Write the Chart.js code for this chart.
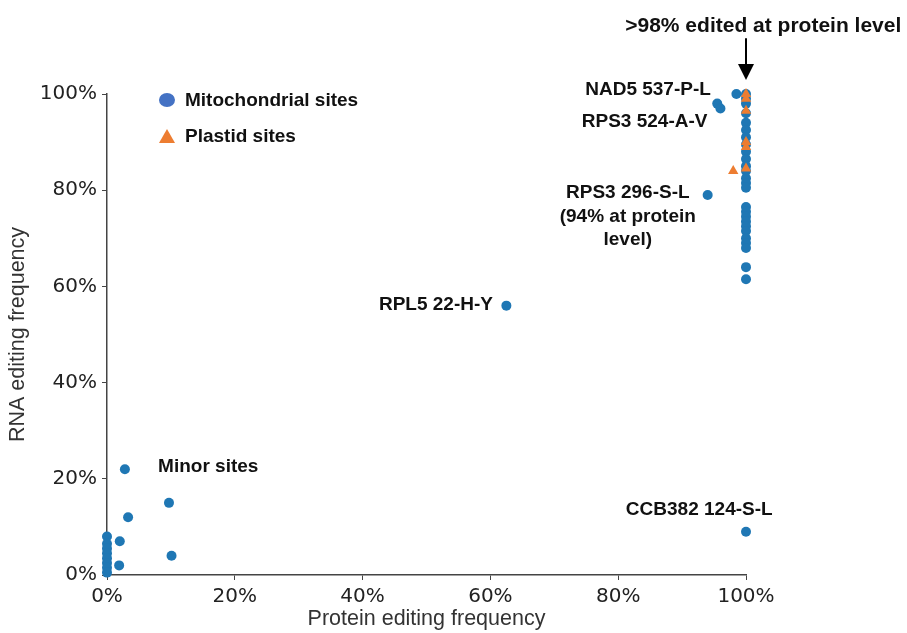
<!DOCTYPE html>
<html>
<head>
<meta charset="utf-8">
<script src="https://cdn.jsdelivr.net/npm/chart.js@4/dist/chart.umd.min.js"></script>
<style>
    html, body { margin: 0; padding: 0; background: #fff; }
    #wrap { width: 907px; height: 633px; position: relative; }
</style>
</head>
<body>
<div id="wrap"><canvas id="editing-chart"></canvas></div>
<script>
// protein vs RNA editing frequency (%), one entry per site
const mitoProtein = [0, 0, 0, 0, 0, 0, 0, 0,
    2.8, 9.7, 3.3, 2, 10.1, 1.9,
    62.5, 94, 95.5, 96, 98.5, 100,
    100, 100, 100, 100, 100, 100, 100, 100, 100, 100, 100, 100, 100,
    100, 100, 100, 100, 100, 100, 100, 100, 100, 100, 100, 100, 100];
const mitoRna = [8, 6.5, 5.5, 4.5, 3.5, 2.5, 1.5, 0.5,
    22, 15, 12, 7, 4, 2,
    56, 79, 98, 97, 100, 9,
    100, 99, 98, 96, 94, 92.5, 91, 89.5, 88, 86.5, 85, 84, 82.5,
    81.5, 80.5, 76.5, 75.5, 74.5, 73.5, 72.5, 71.5, 70, 69, 68, 64, 61.5];
const plastidProtein = [100, 100, 100, 100, 100, 100, 98];
const plastidRna = [100, 99, 96.5, 90, 89, 84.5, 84];

const tickValues = [0, 20, 40, 60, 80, 100];
const seriesNames = ['Mitochondrial sites', 'Plastid sites'];

// text labels: [text, x, y, align] in data units
const siteLabels = [
    ['NAD5 537-P-L', 94.5, 100.8, 'right'],
    ['RPS3 524-A-V', 74.3, 94.2, 'left'],
    ['RPS3 296-S-L', 81.5, 79.4, 'center'],
    ['(94% at protein', 81.5, 74.4, 'center'],
    ['level)', 81.5, 69.6, 'center'],
    ['RPL5 22-H-Y', 60.4, 56.1, 'right'],
    ['Minor sites', 8.0, 22.5, 'left'],
    ['CCB382 124-S-L', 81.2, 13.5, 'left']
];
const headerLabel = ['>98% edited at protein level', 102.7, 114.0];

const MITO_COLOR = '#1f77b4';
const PLASTID_COLOR = '#ed7d31';
const LABEL_FONT = 'bold 19px "Liberation Sans", Arial, sans-serif';
const HEADER_FONT = 'bold 21px "Liberation Sans", Arial, sans-serif';

const toPoints = function (xs, ys) {
    return xs.map((x, i) => ({ x: x, y: ys[i] }));
};

const annotationPlugin = {
    id: 'annotations',
    afterDatasetsDraw(chart) {
        const ctx = chart.ctx;
        const xs = chart.scales.x;
        const ys = chart.scales.y;
        ctx.save();
        ctx.fillStyle = '#111';
        ctx.font = LABEL_FONT;
        ctx.textBaseline = 'middle';
        siteLabels.forEach(([text, x, y, align]) => {
            ctx.textAlign = align;
            ctx.fillText(text, xs.getPixelForValue(x), ys.getPixelForValue(y));
        });
        ctx.font = HEADER_FONT;
        ctx.textAlign = 'center';
        ctx.fillText(headerLabel[0], xs.getPixelForValue(headerLabel[1]), ys.getPixelForValue(headerLabel[2]));

        // arrow down to the 100% column
        const ax = xs.getPixelForValue(100);
        const ay1 = ys.getPixelForValue(111.6);
        const ay2 = ys.getPixelForValue(102.9);
        ctx.strokeStyle = '#000';
        ctx.fillStyle = '#000';
        ctx.lineWidth = 2;
        ctx.beginPath();
        ctx.moveTo(ax, ay1);
        ctx.lineTo(ax, ay2 - 14);
        ctx.stroke();
        ctx.beginPath();
        ctx.moveTo(ax - 8, ay2 - 16);
        ctx.lineTo(ax + 8, ay2 - 16);
        ctx.lineTo(ax, ay2);
        ctx.closePath();
        ctx.fill();

        // legend
        const lx = chart.chartArea.left + 60;
        const ly = chart.chartArea.top + 6;
        ctx.font = LABEL_FONT;
        ctx.fillStyle = '#4472c4';
        ctx.beginPath();
        ctx.ellipse(lx, ly, 8, 7, 0, 0, Math.PI * 2);
        ctx.fill();
        ctx.fillStyle = PLASTID_COLOR;
        ctx.beginPath();
        ctx.moveTo(lx, ly + 29);
        ctx.lineTo(lx + 8, ly + 43);
        ctx.lineTo(lx - 8, ly + 43);
        ctx.closePath();
        ctx.fill();
        ctx.fillStyle = '#111';
        ctx.textAlign = 'left';
        ctx.fillText(seriesNames[0], lx + 18, ly + 1);
        ctx.fillText(seriesNames[1], lx + 18, ly + 37);
        ctx.restore();
    }
};

const tickFont = { family: '"DejaVu Sans", sans-serif', size: 20 };
const titleFont = { family: '"Liberation Sans", Arial, sans-serif', size: 21.5 };

new Chart('editing-chart', {
    type: 'scatter',
    data: {
        datasets: [{
            label: seriesNames[0],
            data: toPoints(mitoProtein, mitoRna),
            pointStyle: 'circle',
            pointRadius: 5,
            backgroundColor: MITO_COLOR,
            borderColor: MITO_COLOR,
            borderWidth: 0,
            clip: false,
            order: 2
        }, {
            label: seriesNames[1],
            data: toPoints(plastidProtein, plastidRna),
            pointStyle: 'triangle',
            pointRadius: 6,
            backgroundColor: PLASTID_COLOR,
            borderColor: PLASTID_COLOR,
            borderWidth: 0,
            clip: false,
            order: 1
        }]
    },
    options: {
        responsive: true,
        maintainAspectRatio: false,
        animation: false,
        layout: { padding: { top: 94, right: 161, left: 0, bottom: 0 } },
        plugins: {
            legend: { display: false },
            tooltip: { enabled: false }
        },
        scales: {
            x: {
                type: 'linear',
                min: 0,
                max: 100,
                afterFit: function (scale) { scale.height = 58; },
                afterBuildTicks: function (scale) { scale.ticks = tickValues.map(v => ({ value: v })); },
                ticks: { font: tickFont, color: '#222', padding: 5, callback: v => v + '%' },
                grid: { drawOnChartArea: false, drawTicks: true, tickLength: 5, color: '#444' },
                border: { display: true, color: '#444', width: 1.5 },
                title: { display: true, text: 'Protein editing frequency', font: titleFont, color: '#333', padding: 1 }
            },
            y: {
                type: 'linear',
                min: 0,
                max: 100,
                afterFit: function (scale) { scale.width = 107; },
                afterBuildTicks: function (scale) { scale.ticks = tickValues.map(v => ({ value: v })); },
                ticks: { font: tickFont, color: '#222', padding: 5, callback: v => v + '%' },
                grid: { drawOnChartArea: false, drawTicks: true, tickLength: 5, color: '#444' },
                border: { display: true, color: '#444', width: 1.5 },
                title: { display: true, text: 'RNA editing frequency', font: titleFont, color: '#333', padding: 5 }
            }
        }
    },
    plugins: [annotationPlugin]
});
</script>
</body>
</html>
